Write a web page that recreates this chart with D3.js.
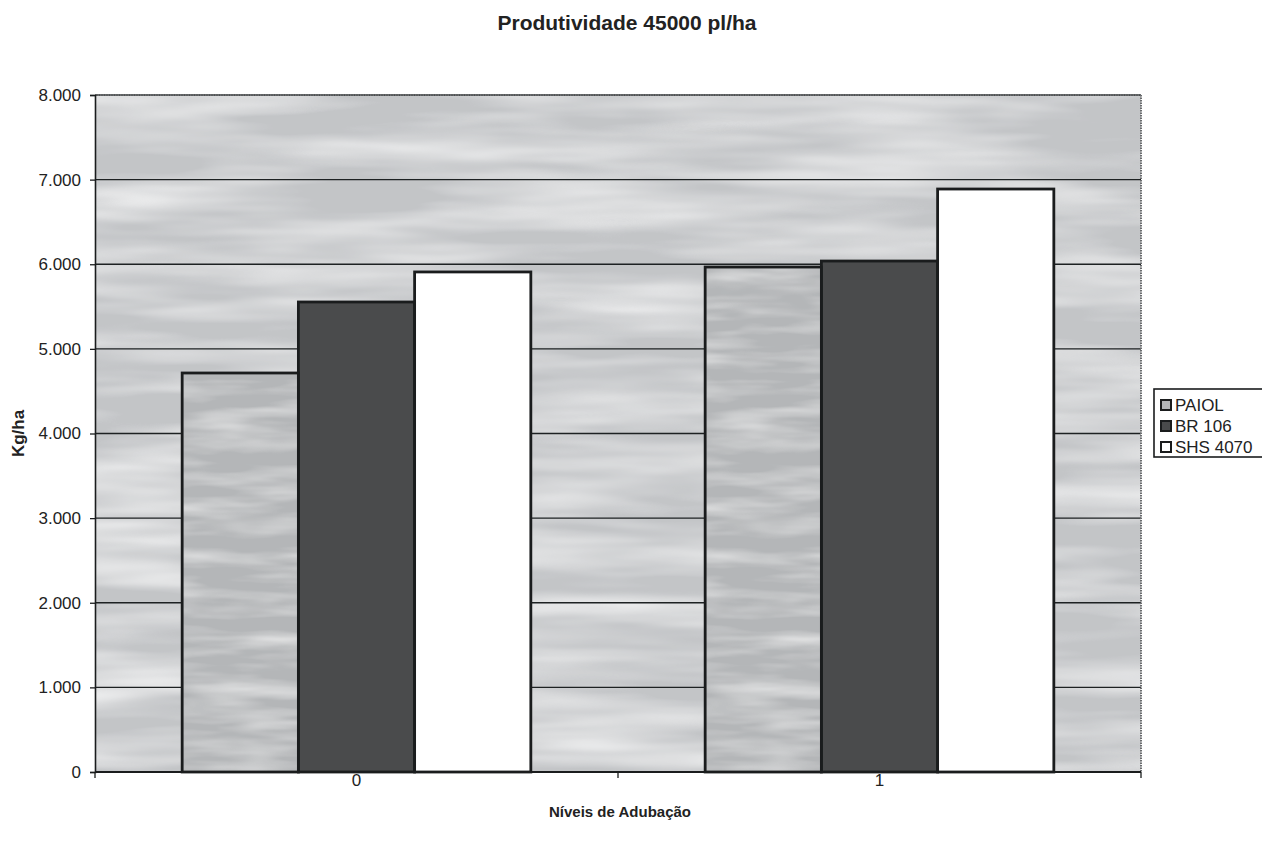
<!DOCTYPE html>
<html>
<head>
<meta charset="utf-8">
<script src="https://cdn.jsdelivr.net/npm/d3@7"></script>
<style>
  html, body { margin: 0; padding: 0; background: #fff; }
  svg { display: block; font-family: Arial, "Liberation Sans", sans-serif; }
</style>
</head>
<body>
<svg id="chart" width="1262" height="845"></svg>
<script>
// Productivity (kg/ha) per fertilisation level for three maize cultivars
const levels = ["0", "1"];
const cultivars = ["PAIOL", "BR 106", "SHS 4070"];
const paiol = [4715, 5967];
const br106 = [5554, 6038];
const shs4070 = [5909, 6889];
const yTicks = [0, 1000, 2000, 3000, 4000, 5000, 6000, 7000, 8000];

const seriesValues = [paiol, br106, shs4070];
const fills = ["#b4b6b8", "#4a4b4c", "#ffffff"];

const svg = d3.select("#chart");
const plot = { left: 95, top: 95, right: 1141, bottom: 772 };

const x0 = d3.scaleBand().domain(levels).range([plot.left, plot.right]).padding(0);
// bar width = band / 4.5 (gap of 1.5 bar widths between groups)
const innerPad = (x0.bandwidth() - 3 * x0.bandwidth() / 4.5) / 2;
const x1 = d3.scaleBand().domain(cultivars)
  .range([innerPad, x0.bandwidth() - innerPad]).padding(0);
const y = d3.scaleLinear().domain([0, 8000]).range([plot.bottom, plot.top]);

const fmt = d3.formatLocale({ decimal: ",", thousands: ".", grouping: [3], currency: ["", ""] }).format(",.0f");

// textured grey backdrop
const defs = svg.append("defs");
function streakFilter(id, freq, seed, gain, offset) {
  const f = defs.append("filter").attr("id", id)
    .attr("x", 0).attr("y", 0).attr("width", 1).attr("height", 1);
  f.append("feTurbulence").attr("type", "fractalNoise")
    .attr("baseFrequency", freq).attr("numOctaves", 3).attr("seed", seed).attr("result", "n");
  f.append("feColorMatrix").attr("in", "n").attr("type", "matrix")
    .attr("values", `0 0 0 0 0  0 0 0 0 0  0 0 0 0 0  ${gain} ${gain} 0 0 ${offset}`).attr("result", "w");
  f.append("feFlood").attr("flood-color", "#ffffff").attr("result", "white");
  f.append("feComposite").attr("in", "white").attr("in2", "w").attr("operator", "in").attr("result", "wl");
  f.append("feMerge").selectAll("feMergeNode").data(["SourceGraphic", "wl"]).join("feMergeNode").attr("in", d => d);
}
streakFilter("streaks", "0.004 0.035", 7, 0.9, -0.72);
streakFilter("grain", "0.01 0.06", 3, 0.6, -0.5);

svg.append("rect")
  .attr("x", plot.left).attr("y", plot.top)
  .attr("width", plot.right - plot.left).attr("height", plot.bottom - plot.top)
  .attr("fill", "#c3c5c7").attr("filter", "url(#streaks)");

// gridlines
svg.append("g").selectAll("line").data(yTicks.filter(d => d > 0)).join("line")
  .attr("x1", plot.left).attr("x2", plot.right)
  .attr("y1", d => y(d)).attr("y2", d => y(d))
  .attr("stroke", "#1d2122").attr("stroke-width", 1.3);

// plot frame: dotted top and right edge
svg.append("line").attr("x1", plot.left).attr("x2", plot.right).attr("y1", plot.top).attr("y2", plot.top)
  .attr("stroke", "#6a6c6e").attr("stroke-width", 2).attr("stroke-dasharray", "1.5,1");
svg.append("line").attr("x1", plot.right).attr("x2", plot.right).attr("y1", plot.top).attr("y2", plot.bottom)
  .attr("stroke", "#6a6c6e").attr("stroke-width", 2).attr("stroke-dasharray", "1.5,1");

// bars: fill first, outline on top
const barData = (lvl, i) => cultivars.map((c, s) => ({ c, s, v: seriesValues[s][i] }));
const groups = svg.append("g").selectAll("g").data(levels).join("g")
  .attr("transform", d => `translate(${x0(d)},0)`);
groups.selectAll("rect.fill").data(barData).join("rect").attr("class", "fill")
  .attr("x", d => x1(d.c)).attr("width", x1.bandwidth())
  .attr("y", d => y(d.v)).attr("height", d => y(0) - y(d.v))
  .attr("fill", d => fills[d.s])
  .attr("filter", d => d.s === 0 ? "url(#grain)" : null);
groups.selectAll("rect.edge").data(barData).join("rect").attr("class", "edge")
  .attr("x", d => x1(d.c)).attr("width", x1.bandwidth())
  .attr("y", d => y(d.v)).attr("height", d => y(0) - y(d.v))
  .attr("fill", "none")
  .attr("stroke", "#1a1c1d").attr("stroke-width", 2.8);

// y axis
const yAxis = d3.axisLeft(y).tickValues(yTicks).tickFormat(fmt).tickSize(5).tickPadding(9);
const ya = svg.append("g").attr("transform", `translate(${plot.left},0)`).call(yAxis);
ya.select(".domain").attr("stroke", "#1a1c1d").attr("stroke-width", 1.6);
ya.selectAll(".tick line").attr("stroke", "#1a1c1d").attr("stroke-width", 1.3);
ya.selectAll("text").attr("font-size", 17).attr("fill", "#222").attr("font-family", "Arial, 'Liberation Sans', sans-serif");

// x axis: ticks at category boundaries, labels at centres
const xa = svg.append("g").attr("transform", `translate(0,${plot.bottom})`);
xa.append("line").attr("x1", plot.left).attr("x2", plot.right).attr("y1", 0).attr("y2", 0)
  .attr("stroke", "#1a1c1d").attr("stroke-width", 2);
const bounds = levels.map(d => x0(d)).concat([x0(levels[levels.length - 1]) + x0.bandwidth()]);
xa.selectAll("line.tk").data(bounds).join("line").attr("class", "tk")
  .attr("x1", d => d).attr("x2", d => d).attr("y1", 0).attr("y2", 6)
  .attr("stroke", "#1a1c1d").attr("stroke-width", 1.3);
xa.selectAll("text").data(levels).join("text")
  .attr("x", d => x0(d) + x0.bandwidth() / 2).attr("y", 2)
  .attr("dy", "0.71em").attr("text-anchor", "middle")
  .attr("font-size", 17).attr("fill", "#222").text(d => d);

// titles
svg.append("text").attr("x", 627).attr("y", 30).attr("text-anchor", "middle")
  .attr("font-size", 21).attr("font-weight", "bold").attr("fill", "#222")
  .text("Produtividade 45000 pl/ha");
svg.append("text").attr("x", 620).attr("y", 817).attr("text-anchor", "middle")
  .attr("font-size", 15).attr("font-weight", "bold").attr("fill", "#222")
  .text("Níveis de Adubação");
svg.append("text").attr("transform", `translate(24,${(plot.top + plot.bottom) / 2}) rotate(-90)`)
  .attr("text-anchor", "middle")
  .attr("font-size", 17).attr("font-weight", "bold").attr("fill", "#222")
  .text("Kg/ha");

// legend
const lg = svg.append("g").attr("transform", "translate(1154,389)");
lg.append("rect").attr("x", 0).attr("y", 0).attr("width", 110).attr("height", 68)
  .attr("fill", "#fff").attr("stroke", "#1a1c1d").attr("stroke-width", 1.6);
const items = lg.selectAll("g").data(cultivars).join("g")
  .attr("transform", (d, i) => `translate(7,${16 + i * 21})`);
items.append("rect").attr("x", 0).attr("y", -5).attr("width", 10).attr("height", 10)
  .attr("fill", (d, i) => fills[i]).attr("stroke", "#1a1c1d").attr("stroke-width", 2);
items.append("text").attr("x", 14).attr("y", 0).attr("dy", "0.35em")
  .attr("font-size", 17).attr("fill", "#222").text(d => d);
</script>
</body>
</html>
